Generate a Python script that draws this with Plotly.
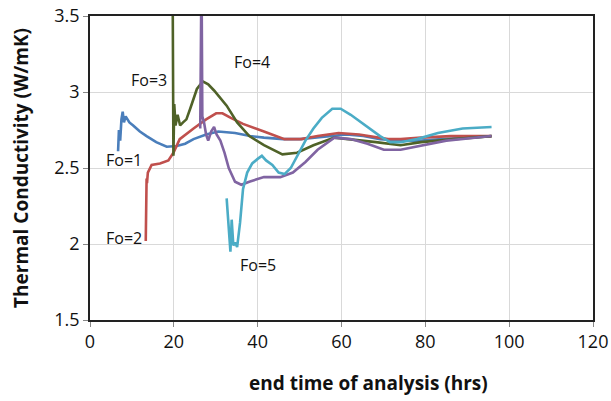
import plotly.graph_objects as go

fo1_x = [6.7, 6.9, 7.2, 7.5, 7.8, 8.1, 8.5, 9.4, 10.3, 11.9, 13.5, 15.8, 18.3, 20.7, 22.7, 24.7, 27.7, 30.6, 34.6, 38.2, 41.5, 46.1, 50.1, 54.3, 58.1, 61.2, 65.2, 69.2, 74.1, 79, 84, 89, 95.8]
fo1_y = [2.61, 2.75, 2.68, 2.82, 2.87, 2.80, 2.84, 2.80, 2.78, 2.74, 2.71, 2.67, 2.64, 2.645, 2.66, 2.69, 2.72, 2.74, 2.73, 2.71, 2.70, 2.69, 2.69, 2.70, 2.71, 2.72, 2.71, 2.69, 2.68, 2.68, 2.69, 2.70, 2.71]

fo2_x = [13.3, 13.4, 13.5, 13.6, 13.8, 14.3, 14.7, 16.7, 18.7, 19.9, 21.4, 24.7, 27.7, 30.1, 31.6, 33.6, 36.5, 41.5, 46.4, 50.4, 54.3, 59.3, 64.2, 71.1, 74.1, 79, 86, 95.8]
fo2_y = [2.02, 2.28, 2.43, 2.40, 2.47, 2.50, 2.52, 2.53, 2.55, 2.60, 2.69, 2.76, 2.82, 2.86, 2.86, 2.83, 2.79, 2.74, 2.69, 2.69, 2.71, 2.73, 2.72, 2.69, 2.69, 2.70, 2.71, 2.71]

fo3_x = [19.7, 19.9, 20.1, 20.4, 20.9, 21.5, 22.2, 23.0, 23.9, 25.5, 26.9, 28.2, 29.6, 32.6, 35.1, 38.0, 41.5, 45.9, 49.4, 53.3, 58.3, 62.2, 68.2, 74.1, 79, 86.9, 95.8]
fo3_y = [3.8, 2.58, 2.92, 2.78, 2.85, 2.78, 2.80, 2.82, 2.89, 3.02, 3.07, 3.05, 3.01, 2.91, 2.80, 2.71, 2.65, 2.59, 2.60, 2.65, 2.70, 2.69, 2.67, 2.65, 2.67, 2.69, 2.71]

fo4_x = [26.3, 26.6, 26.8, 27.2, 27.7, 28.2, 28.9, 29.6, 30.2, 31.1, 32.1, 33.1, 34.6, 36.1, 38.0, 41.5, 45.4, 48.4, 51.4, 54.3, 58.3, 62.2, 66.2, 70.1, 74.1, 78, 85, 95.8]
fo4_y = [2.76, 3.8, 2.84, 2.80, 2.72, 2.68, 2.74, 2.77, 2.72, 2.68, 2.60, 2.50, 2.41, 2.39, 2.41, 2.44, 2.44, 2.47, 2.54, 2.62, 2.70, 2.69, 2.66, 2.62, 2.62, 2.64, 2.68, 2.71]

fo5_x = [32.6, 32.9, 33.2, 33.5, 33.8, 34.2, 34.6, 35.1, 35.8, 36.5, 37.5, 38.7, 40.0, 41.0, 42.0, 43.5, 45.0, 46.4, 47.9, 49.4, 51.4, 53.3, 55.3, 57.8, 59.8, 62.2, 65.2, 69.2, 71.6, 74.1, 78, 83, 88.9, 95.8]
fo5_y = [2.30, 2.18, 2.05, 1.95, 2.16, 1.99, 2.01, 1.98, 2.14, 2.36, 2.47, 2.53, 2.56, 2.58, 2.55, 2.52, 2.47, 2.46, 2.50, 2.58, 2.68, 2.76, 2.83, 2.89, 2.89, 2.85, 2.79, 2.71, 2.67, 2.67, 2.69, 2.73, 2.76, 2.77]

labels = ["Fo=1", "Fo=2", "Fo=3", "Fo=4", "Fo=5"]
label_x = [8.1, 8.1, 14.1, 38.7, 40.1]
label_y = [2.55, 2.04, 3.08, 3.2, 1.86]

x_ticks = [0, 20, 40, 60, 80, 100, 120]
y_ticks = [1.5, 2, 2.5, 3, 3.5]
x_title = "end time of analysis (hrs)"
y_title = "Thermal Conductivity (W/mK)"

series = [
    (fo1_x, fo1_y, "#4A7EBB"),
    (fo2_x, fo2_y, "#C0504D"),
    (fo3_x, fo3_y, "#4F6228"),
    (fo4_x, fo4_y, "#8064A2"),
    (fo5_x, fo5_y, "#4BACC6"),
]

fig = go.Figure()
for (xs, ys, c), name in zip(series, labels):
    fig.add_trace(go.Scatter(x=xs, y=ys, mode="lines", name=name,
                             line=dict(color=c, width=2.6), showlegend=False))

for t, lx, ly in zip(labels, label_x, label_y):
    fig.add_annotation(x=lx, y=ly, text=t, showarrow=False,
                       font=dict(family="Open Sans", size=16, color="#111111"))

# x-axis title, centred over the chart area as in the original
fig.add_annotation(xref="paper", yref="paper", x=0.553, y=-0.207,
                   xanchor="center", yanchor="middle", showarrow=False,
                   text="<b>" + x_title + "</b>",
                   font=dict(family="Open Sans", size=19, color="#111111"))

fig.update_layout(
    width=611, height=401,
    margin=dict(l=90, r=18, t=16, b=81),
    paper_bgcolor="white", plot_bgcolor="white",
    font=dict(family="Open Sans", color="#111111"),
)
fig.update_xaxes(range=[0, 120], tickvals=x_ticks, showgrid=True, gridcolor="#d9d9d9",
                 showline=True, linecolor="#222222", linewidth=1.5, mirror=True,
                 ticks="outside", ticklen=5, tickcolor="#888888",
                 tickfont=dict(size=18), automargin=False,
                 zeroline=False)
fig.update_yaxes(range=[1.5, 3.5], tickvals=y_ticks, ticktext=["1.5", "2", "2.5", "3", "3.5"],
                 showgrid=True, gridcolor="#d9d9d9",
                 showline=True, linecolor="#222222", linewidth=1.5, mirror=True,
                 ticks="outside", ticklen=5, tickcolor="#888888",
                 tickfont=dict(size=18), automargin=False,
                 title=dict(text="<b>" + y_title + "</b>", font=dict(size=19), standoff=21),
                 zeroline=False)

fig.write_html("out.html", config={"displayModeBar": False},
               post_script="document.body.style.margin='0';document.body.style.overflow='hidden';")
